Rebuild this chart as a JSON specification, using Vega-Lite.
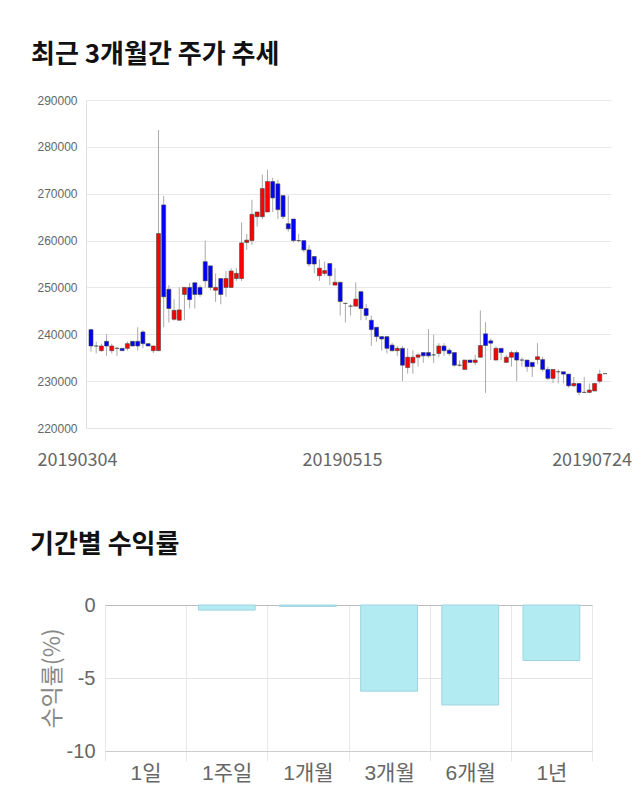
{
  "$schema": "https://vega.github.io/schema/vega-lite/v6.json",
  "padding": {"left": 30, "top": 42, "right": 10, "bottom": 10},
  "spacing": 177,
  "align": "each",
  "bounds": "flush",
  "center": true,
  "config": {"view": {"stroke": null}, "font": "Noto Sans CJK KR"},
  "vconcat": [
    {
      "title": {"text": "최근 3개월간 주가 추세", "anchor": "start", "frame": "group", "dx": -55, "fontSize": 26, "fontWeight": "bold", "color": "#111", "offset": 26, "font": "Noto Sans CJK KR"},
      "width": 525,
      "height": 328,
      "data": {"values": [
        {"i":0,"o":241000,"h":241000,"l":236300,"c":237500},
        {"i":1,"o":237500,"h":238400,"l":235900,"c":237500},
        {"i":2,"o":236500,"h":238000,"l":236300,"c":237500},
        {"i":3,"o":238500,"h":240000,"l":235400,"c":237500},
        {"i":4,"o":236500,"h":238000,"l":235900,"c":237500},
        {"i":5,"o":237000,"h":237300,"l":235400,"c":237000},
        {"i":6,"o":237000,"h":237000,"l":236500,"c":236500},
        {"i":7,"o":237000,"h":238500,"l":236500,"c":238000},
        {"i":8,"o":238500,"h":238500,"l":237500,"c":237500},
        {"i":9,"o":238500,"h":241500,"l":236500,"c":237500},
        {"i":10,"o":240500,"h":240900,"l":237000,"c":238000},
        {"i":11,"o":238000,"h":238000,"l":237500,"c":237500},
        {"i":12,"o":236500,"h":237500,"l":236000,"c":237500},
        {"i":13,"o":236500,"h":283600,"l":236500,"c":261500},
        {"i":14,"o":267600,"h":269500,"l":241500,"c":248000},
        {"i":15,"o":249600,"h":250500,"l":242500,"c":245500},
        {"i":16,"o":243200,"h":247500,"l":242900,"c":245100},
        {"i":17,"o":243000,"h":250000,"l":243000,"c":245200},
        {"i":18,"o":248500,"h":250000,"l":243000,"c":250000},
        {"i":19,"o":250000,"h":251000,"l":245500,"c":247400},
        {"i":20,"o":251000,"h":251000,"l":245500,"c":248500},
        {"i":21,"o":250000,"h":250500,"l":248000,"c":248500},
        {"i":22,"o":255500,"h":260000,"l":250000,"c":251400},
        {"i":23,"o":254600,"h":254600,"l":249400,"c":250000},
        {"i":24,"o":249400,"h":253000,"l":246900,"c":250000},
        {"i":25,"o":251900,"h":251900,"l":246400,"c":248500},
        {"i":26,"o":250000,"h":253500,"l":248000,"c":251900},
        {"i":27,"o":250000,"h":254100,"l":250000,"c":253500},
        {"i":28,"o":251900,"h":254100,"l":251400,"c":253000},
        {"i":29,"o":251900,"h":263900,"l":251400,"c":259500},
        {"i":30,"o":259600,"h":261400,"l":258000,"c":260100},
        {"i":31,"o":260000,"h":268700,"l":259100,"c":265600},
        {"i":32,"o":265100,"h":266100,"l":263000,"c":266100},
        {"i":33,"o":265100,"h":274100,"l":264600,"c":271100},
        {"i":34,"o":266100,"h":275100,"l":266100,"c":272600},
        {"i":35,"o":272600,"h":273400,"l":266100,"c":269100},
        {"i":36,"o":272100,"h":273000,"l":264600,"c":266600},
        {"i":37,"o":269600,"h":269600,"l":264600,"c":265100},
        {"i":38,"o":263600,"h":269600,"l":261900,"c":262500},
        {"i":39,"o":264600,"h":264600,"l":259600,"c":260000},
        {"i":40,"o":260000,"h":261400,"l":259600,"c":260000},
        {"i":41,"o":260000,"h":260000,"l":257500,"c":258000},
        {"i":42,"o":258000,"h":259000,"l":254400,"c":255000},
        {"i":43,"o":256600,"h":256600,"l":253000,"c":255000},
        {"i":44,"o":252500,"h":256000,"l":251400,"c":254100},
        {"i":45,"o":253000,"h":255500,"l":252500,"c":253600},
        {"i":46,"o":255100,"h":255100,"l":250500,"c":252500},
        {"i":47,"o":250500,"h":254100,"l":250500,"c":251100},
        {"i":48,"o":251100,"h":251100,"l":244000,"c":247000},
        {"i":49,"o":246600,"h":246600,"l":242500,"c":246600},
        {"i":50,"o":246000,"h":246500,"l":244000,"c":246000},
        {"i":51,"o":246000,"h":251100,"l":246000,"c":247500},
        {"i":52,"o":249100,"h":249100,"l":243000,"c":245500},
        {"i":53,"o":245500,"h":246500,"l":243000,"c":244000},
        {"i":54,"o":243000,"h":244000,"l":237500,"c":241000},
        {"i":55,"o":241500,"h":241500,"l":238400,"c":239500},
        {"i":56,"o":239500,"h":239500,"l":236500,"c":239000},
        {"i":57,"o":239500,"h":239500,"l":235900,"c":237000},
        {"i":58,"o":237700,"h":238200,"l":236300,"c":236500},
        {"i":59,"o":236500,"h":237500,"l":235400,"c":237000},
        {"i":60,"o":237000,"h":237500,"l":230000,"c":233400},
        {"i":61,"o":232900,"h":237000,"l":231600,"c":235100},
        {"i":62,"o":233900,"h":236600,"l":231600,"c":235100},
        {"i":63,"o":235100,"h":235900,"l":233100,"c":235600},
        {"i":64,"o":236100,"h":236100,"l":233900,"c":235400},
        {"i":65,"o":236100,"h":241100,"l":235000,"c":235400},
        {"i":66,"o":235600,"h":239900,"l":233900,"c":235600},
        {"i":67,"o":235900,"h":238100,"l":235100,"c":237500},
        {"i":68,"o":237500,"h":238100,"l":235400,"c":236500},
        {"i":69,"o":236600,"h":237000,"l":235400,"c":235900},
        {"i":70,"o":236100,"h":236100,"l":233100,"c":233400},
        {"i":71,"o":233400,"h":234400,"l":233100,"c":233400},
        {"i":72,"o":232500,"h":234500,"l":232500,"c":234500},
        {"i":73,"o":234500,"h":234500,"l":234000,"c":234000},
        {"i":74,"o":234000,"h":235600,"l":233400,"c":234500},
        {"i":75,"o":235100,"h":245100,"l":235100,"c":237600},
        {"i":76,"o":240100,"h":242600,"l":227500,"c":237600},
        {"i":77,"o":238600,"h":239100,"l":234500,"c":238100},
        {"i":78,"o":234500,"h":237400,"l":234500,"c":237000},
        {"i":79,"o":237000,"h":237000,"l":234500,"c":236100},
        {"i":80,"o":234000,"h":235600,"l":234000,"c":235100},
        {"i":81,"o":235100,"h":236500,"l":233100,"c":236100},
        {"i":82,"o":236100,"h":236500,"l":230000,"c":234500},
        {"i":83,"o":234500,"h":235100,"l":233100,"c":234500},
        {"i":84,"o":234500,"h":234500,"l":232000,"c":233100},
        {"i":85,"o":234000,"h":234000,"l":230900,"c":233100},
        {"i":86,"o":234600,"h":238100,"l":233600,"c":235200},
        {"i":87,"o":234600,"h":235200,"l":232000,"c":232500},
        {"i":88,"o":232500,"h":233100,"l":230200,"c":230600},
        {"i":89,"o":230600,"h":232500,"l":229600,"c":232500},
        {"i":90,"o":232000,"h":232500,"l":229500,"c":232000},
        {"i":91,"o":232000,"h":232000,"l":229500,"c":231500},
        {"i":92,"o":231500,"h":231500,"l":228600,"c":229000},
        {"i":93,"o":229000,"h":230900,"l":228800,"c":229500},
        {"i":94,"o":229500,"h":229500,"l":227000,"c":227600},
        {"i":95,"o":227600,"h":230900,"l":227400,"c":227600},
        {"i":96,"o":227600,"h":229500,"l":227400,"c":228100},
        {"i":97,"o":227900,"h":229500,"l":227900,"c":229500},
        {"i":98,"o":230000,"h":232500,"l":229500,"c":231500},
        {"i":99,"o":231600,"h":231600,"l":231600,"c":231600}
      ]},
      "encoding": {
        "x": {
          "field": "i", "type": "quantitative",
          "scale": {"domain": [0, 99.2], "nice": false, "zero": false},
          "axis": {
            "values": [0, 49.5, 97],
            "labelExpr": "datum.value < 1 ? '20190304' : datum.value < 60 ? '20190515' : '20190724'",
            "labelFlush": false,
            "labelOffset": {"condition": [{"test": "datum.value < 1", "value": -14}, {"test": "datum.value > 60", "value": -3}], "value": -6},
            "grid": false, "ticks": false, "domain": true, "domainColor": "#e3e3e3",
            "labelFontSize": 18, "labelColor": "#666", "labelPadding": 23,
            "labelFont": "Noto Sans CJK KR", "title": null
          }
        }
      },
      "layer": [
        {
          "mark": {"type": "rule", "color": "#aaaaaa", "strokeWidth": 1, "clip": true},
          "encoding": {
            "y": {"field": "l", "type": "quantitative",
              "scale": {"domain": [220000, 290000], "nice": false, "zero": false},
              "axis": {
                "values": [220000, 230000, 240000, 250000, 260000, 270000, 280000, 290000],
                "format": "d", "grid": true, "gridColor": "#e8e8e8", "domain": true, "domainColor": "#e0e0e0",
                "ticks": false, "labelFontSize": 12, "labelColor": "#666", "labelFont": "Liberation Sans",
                "labelPadding": 9, "title": null
              }},
            "y2": {"field": "h"}
          }
        },
        {
          "mark": {"type": "bar", "size": 4, "clip": true, "stroke": "#444", "strokeWidth": 0.6},
          "encoding": {
            "y": {"field": "o", "type": "quantitative"},
            "y2": {"field": "c"},
            "color": {
              "condition": [
                {"test": "datum.c > datum.o", "value": "#ff0000"},
                {"test": "datum.c < datum.o", "value": "#0000ff"}
              ],
              "value": "#444"
            }
          }
        }
      ]
    },
    {
      "title": {"text": "기간별 수익률", "anchor": "start", "frame": "group", "dx": -75, "fontSize": 26, "fontWeight": "bold", "color": "#111", "offset": 37, "font": "Noto Sans CJK KR"},
      "width": 487,
      "height": 146,
      "data": {"values": [
        {"p": "1일", "r": 0},
        {"p": "1주일", "r": -0.35},
        {"p": "1개월", "r": -0.1},
        {"p": "3개월", "r": -5.9},
        {"p": "6개월", "r": -6.85},
        {"p": "1년", "r": -3.8}
      ]},
      "mark": {"type": "bar", "width": {"band": 0.7}, "fill": "#b3ebf3", "strokeWidth": 1},
      "encoding": {
        "stroke": {"condition": {"test": "datum.r == 0", "value": "transparent"}, "value": "#9fd4de"},
        "x": {
          "field": "p", "type": "nominal", "sort": null,
          "scale": {"paddingInner": 0, "paddingOuter": 0},
          "axis": {
            "title": null, "labelAngle": 0, "grid": true, "tickBand": "extent",
            "gridColor": "#e8e8e8", "ticks": true, "tickColor": "#e8e8e8", "tickSize": 10,
            "domain": true, "domainColor": "#cccccc",
            "labelFontSize": 21, "labelColor": "#666", "labelPadding": 1,
            "labelFont": "Liberation Sans, Noto Sans CJK KR"
          }
        },
        "y": {
          "field": "r", "type": "quantitative",
          "scale": {"domain": [-10, 0], "nice": false},
          "axis": {
            "values": [0, -5, -10],
            "labelExpr": "'' + datum.value",
            "title": "수익률(%)", "titleFontSize": 23, "titleColor": "#888", "titleFontWeight": "normal",
            "titleFont": "Noto Sans CJK KR", "titlePadding": 2,
            "grid": true,
            "gridColor": {"condition": {"test": "datum.value === 0", "value": "#bbbbbb"}, "value": "#e5e5e5"},
            "domain": false, "ticks": false,
            "labelFontSize": 20, "labelColor": "#666", "labelFont": "Liberation Sans", "labelPadding": 10
          }
        }
      }
    }
  ]
}
